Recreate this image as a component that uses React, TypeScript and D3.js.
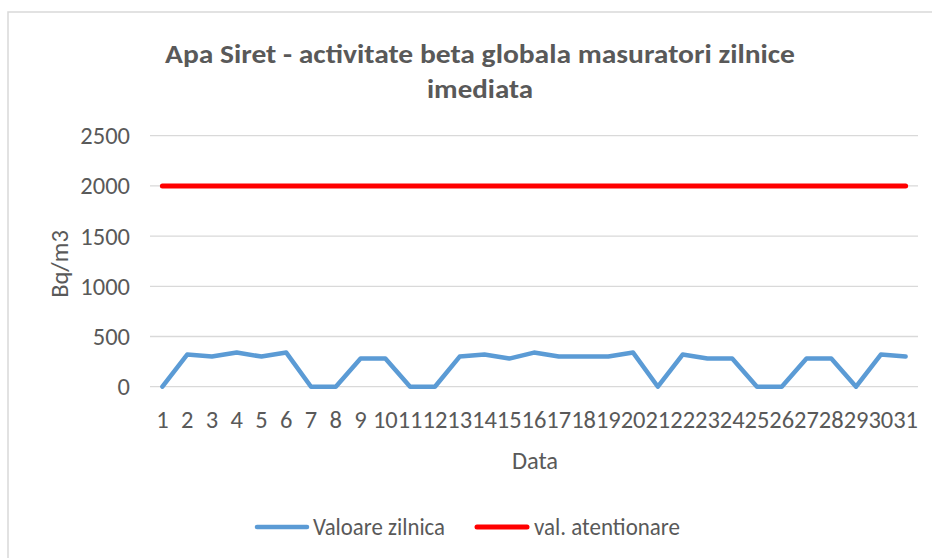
import React from "react";
import * as d3 from "d3";

const days: string[] = Array.from({ length: 31 }, (_, i) => String(i + 1));
const dailyValues: number[] = [0, 320, 300, 340, 300, 340, 0, 0, 280, 280, 0, 0, 300, 320, 280, 340, 300, 300, 300, 340, 0, 320, 280, 280, 0, 0, 280, 280, 0, 320, 300];
const alertValues: number[] = days.map(() => 2000);
const yTicks: number[] = [0, 500, 1000, 1500, 2000, 2500];
const titleLines: string[] = ["Apa Siret - activitate beta globala masuratori zilnice", "imediata"];
const seriesNames: string[] = ["Valoare zilnica", "val. atentionare"];

const W = 932;
const H = 558;
const FONT = "Carlito, Calibri, 'Open Sans', sans-serif";
const TXT = "#595959";
const FS = 24.5;

export default function App() {
  const x = d3.scalePoint<string>().domain(days).range([150, 918]).padding(0.5);
  const y = d3.scaleLinear().domain([0, 2500]).range([386.7, 135.7]);
  const line = d3
    .line<number>()
    .x((_, i) => x(days[i]) as number)
    .y((d) => y(d));

  return (
    <svg
      width={W}
      height={H}
      style={{ position: "fixed", left: 0, top: 0, background: "#fff" }}
      fontFamily={FONT}
    >
      <rect x={0} y={0} width={W} height={H} fill="#fff" />
      <rect x={8} y={12} width={W + 20} height={H + 20} fill="#fff" stroke="#d9d9d9" strokeWidth={1.5} />

      {/* title */}
      <text x={480} y={63} textAnchor="middle" fontSize={27} fontWeight="bold" fill={TXT} textLength={630} lengthAdjust="spacingAndGlyphs">
        {titleLines[0]}
      </text>
      <text x={480} y={98} textAnchor="middle" fontSize={27} fontWeight="bold" fill={TXT} textLength={106} lengthAdjust="spacingAndGlyphs">
        {titleLines[1]}
      </text>

      {/* grid + y ticks */}
      {yTicks.map((t) => (
        <g key={t}>
          <line x1={150} x2={918} y1={y(t)} y2={y(t)} stroke="#d9d9d9" strokeWidth={1.3} />
          <text x={130} y={y(t)} dy="0.35em" textAnchor="end" fontSize={FS} fill={TXT}>
            {t}
          </text>
        </g>
      ))}

      {/* x ticks */}
      {days.map((d) => (
        <text key={d} x={x(d)} y={428} textAnchor="middle" fontSize={FS} fill={TXT}>
          {d}
        </text>
      ))}

      {/* axis titles */}
      <text x={535} y={469} textAnchor="middle" fontSize={FS} fill={TXT}>
        Data
      </text>
      <text transform="translate(68,264) rotate(-90)" textAnchor="middle" fontSize={FS} fill={TXT}>
        Bq/m3
      </text>

      {/* series */}
      <path d={line(alertValues) || ""} fill="none" stroke="#ff0000" strokeWidth={5} strokeLinecap="round" strokeLinejoin="round" />
      <path d={line(dailyValues) || ""} fill="none" stroke="#5b9bd5" strokeWidth={4.5} strokeLinecap="round" strokeLinejoin="round" />

      {/* legend */}
      <line x1={257} x2={307} y1={527} y2={527} stroke="#5b9bd5" strokeWidth={4.5} strokeLinecap="round" />
      <text x={313} y={535} fontSize={FS} fill={TXT} textLength={132} lengthAdjust="spacingAndGlyphs">
        {seriesNames[0]}
      </text>
      <line x1={477} x2={527} y1={527} y2={527} stroke="#ff0000" strokeWidth={5} strokeLinecap="round" />
      <text x={534} y={535} fontSize={FS} fill={TXT} textLength={146} lengthAdjust="spacingAndGlyphs">
        {seriesNames[1]}
      </text>
    </svg>
  );
}
